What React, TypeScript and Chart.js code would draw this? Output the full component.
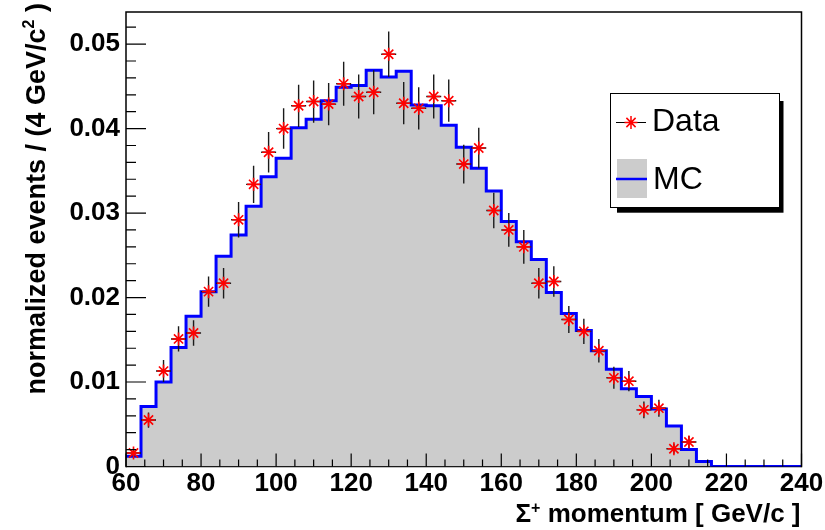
import React, { useEffect, useRef } from 'react';
import { Chart, registerables } from 'chart.js';

Chart.register(...registerables);

// ---------------- data ----------------
const binLowEdges = [
  60, 64, 68, 72, 76, 80, 84, 88, 92, 96, 100, 104, 108, 112, 116, 120, 124, 128, 132, 136,
  140, 144, 148, 152, 156, 160, 164, 168, 172, 176, 180, 184, 188, 192, 196, 200, 204, 208,
  212, 216, 220, 224, 228, 232, 236,
];
const binUpperEdge = 240;

const mcValues = [
  0.0012, 0.0071, 0.0100, 0.0141, 0.0178, 0.0207, 0.0249, 0.0274, 0.0308, 0.0343,
  0.0365, 0.0401, 0.0411, 0.0433, 0.0449, 0.0451, 0.0469, 0.0461, 0.0468, 0.0428,
  0.0427, 0.0404, 0.0378, 0.0353, 0.0326, 0.0290, 0.0266, 0.0245, 0.0206, 0.0181,
  0.0161, 0.0137, 0.0115, 0.0092, 0.0083, 0.0068, 0.0048, 0.0020, 0.0006, 0,
  0, 0, 0, 0, 0,
];

const dataCenters = [
  62, 66, 70, 74, 78, 82, 86, 90, 94, 98, 102, 106, 110, 114, 118, 122, 126, 130, 134,
  138, 142, 146, 150, 154, 158, 162, 166, 170, 174, 178, 182, 186, 190, 194, 198, 202,
  206, 210,
];
const dataValues = [
  0.0016, 0.0055, 0.0113, 0.0151, 0.0158, 0.0207, 0.0217, 0.0292, 0.0334, 0.0372,
  0.0400, 0.0427, 0.0432, 0.0429, 0.0453, 0.0438, 0.0443, 0.0488, 0.0430, 0.0424,
  0.0438, 0.0433, 0.0358, 0.0377, 0.0303, 0.0280, 0.0260, 0.0217, 0.0219, 0.0174,
  0.0160, 0.0137, 0.0105, 0.0101, 0.0067, 0.0069, 0.0021, 0.0029,
];
const dataErrors = [
  0.0005, 0.0009, 0.0013, 0.0015, 0.0015, 0.0018, 0.0018, 0.0021, 0.0022, 0.0024,
  0.0024, 0.0025, 0.0025, 0.0025, 0.0026, 0.0026, 0.0026, 0.0027, 0.0025, 0.0025,
  0.0026, 0.0025, 0.0023, 0.0024, 0.0021, 0.0020, 0.0020, 0.0018, 0.0018, 0.0016,
  0.0015, 0.0014, 0.0013, 0.0012, 0.0010, 0.0010, 0.0006, 0.0007,
];
const dataHalfBin = 2;

const xTicks = [60, 80, 100, 120, 140, 160, 180, 200, 220, 240];
const yTicks = [0, 0.01, 0.02, 0.03, 0.04, 0.05];
const xMin = 60;
const xMax = 240;
const yMin = 0;
const yMax = 0.0538;
const xMinorStep = 5;
const yMinorStep = 0.002;

const xTitle = ['Σ', '+', ' momentum [ GeV/c ]'];
const yTitle = ['normalized events / (4 GeV/c', '2', ' )'];
const legendLabels = ['Data', 'MC'];

const FONT = "'Liberation Sans', Arial, Helvetica, sans-serif";

type Seg = { t: string; size: number; rise: number };

function drawRichRightAligned(ctx: CanvasRenderingContext2D, segs: Seg[], weight: string) {
  const widths = segs.map((s) => {
    ctx.font = `${weight} ${s.size}px ${FONT}`;
    return ctx.measureText(s.t).width;
  });
  const total = widths.reduce((a, b) => a + b, 0);
  let x = -total;
  segs.forEach((s, i) => {
    ctx.font = `${weight} ${s.size}px ${FONT}`;
    ctx.fillText(s.t, x, -s.rise);
    x += widths[i];
  });
}

function drawStar(ctx: CanvasRenderingContext2D, cx: number, cy: number, r: number) {
  const d = r * Math.SQRT1_2;
  ctx.beginPath();
  ctx.moveTo(cx - r, cy);
  ctx.lineTo(cx + r, cy);
  ctx.moveTo(cx, cy - r);
  ctx.lineTo(cx, cy + r);
  ctx.moveTo(cx - d, cy - d);
  ctx.lineTo(cx + d, cy + d);
  ctx.moveTo(cx - d, cy + d);
  ctx.lineTo(cx + d, cy - d);
  ctx.stroke();
}

const rootStylePlugin = {
  id: 'rootStyle',
  beforeDatasetsDraw(chart: any) {
    const { ctx, chartArea: ca } = chart;
    ctx.save();
    ctx.strokeStyle = '#000';
    ctx.lineWidth = 1.5;
    ctx.beginPath();
    ctx.moveTo(ca.left, ca.bottom);
    ctx.lineTo(ca.right, ca.bottom);
    ctx.stroke();
    ctx.restore();
  },
  beforeDatasetDraw(chart: any, args: any) {
    if (args.index !== 0) return;
    const { ctx, chartArea: ca, scales } = chart;
    const xs = scales.x;
    const ys = scales.y;
    ctx.save();
    ctx.beginPath();
    ctx.rect(ca.left, ca.top, ca.right - ca.left, ca.bottom - ca.top);
    ctx.clip();
    ctx.strokeStyle = '#1a1a1a';
    ctx.lineWidth = 1.4;
    dataCenters.forEach((c, i) => {
      const px = xs.getPixelForValue(c);
      const v = dataValues[i];
      const e = dataErrors[i];
      const yTop = ys.getPixelForValue(v + e);
      const yBot = ys.getPixelForValue(Math.max(0, v - e));
      const py = ys.getPixelForValue(v);
      const xl = xs.getPixelForValue(c - dataHalfBin);
      const xr = xs.getPixelForValue(c + dataHalfBin);
      ctx.beginPath();
      ctx.moveTo(px, yTop);
      ctx.lineTo(px, yBot);
      ctx.moveTo(xl, py);
      ctx.lineTo(xr, py);
      ctx.stroke();
    });
    ctx.restore();
  },
  afterDraw(chart: any) {
    const { ctx, chartArea: ca, scales } = chart;
    const xs = scales.x;
    const ys = scales.y;
    ctx.save();

    // frame (left, top, right)
    ctx.strokeStyle = '#000';
    ctx.lineWidth = 1.5;
    ctx.beginPath();
    ctx.moveTo(ca.left, ca.bottom + 0.75);
    ctx.lineTo(ca.left, ca.top);
    ctx.lineTo(ca.right, ca.top);
    ctx.lineTo(ca.right, ca.bottom + 0.75);
    ctx.stroke();

    // ticks
    ctx.lineWidth = 1.2;
    ctx.beginPath();
    for (let k = 0; yMin + k * yMinorStep <= yMax + 1e-9; k++) {
      const v = yMin + k * yMinorStep;
      const py = ys.getPixelForValue(v);
      const len = k % 5 === 0 ? 20 : 10;
      ctx.moveTo(ca.left, py);
      ctx.lineTo(ca.left + len, py);
    }
    for (let k = 0; xMin + k * xMinorStep <= xMax + 1e-9; k++) {
      const v = xMin + k * xMinorStep;
      const px = xs.getPixelForValue(v);
      const len = k % 4 === 0 ? 13 : 7;
      ctx.moveTo(px, ca.bottom);
      ctx.lineTo(px, ca.bottom - len);
    }
    ctx.stroke();

    // axis titles
    ctx.fillStyle = '#000';
    ctx.textAlign = 'left';
    ctx.textBaseline = 'alphabetic';
    ctx.save();
    ctx.translate(ca.right - 1, 522);
    drawRichRightAligned(
      ctx,
      [
        { t: xTitle[0], size: 26, rise: 0 },
        { t: xTitle[1], size: 16, rise: 9 },
        { t: xTitle[2], size: 26, rise: 0 },
      ],
      'bold'
    );
    ctx.restore();

    ctx.save();
    ctx.translate(45, 3);
    ctx.rotate(-Math.PI / 2);
    drawRichRightAligned(
      ctx,
      [
        { t: yTitle[0], size: 27, rise: 0 },
        { t: yTitle[1], size: 16, rise: 11 },
        { t: yTitle[2], size: 27, rise: 0 },
      ],
      'bold'
    );
    ctx.restore();

    // legend (shadow, box, entries)
    const bx = 610, by = 93, bw = 169, bh = 114;
    ctx.fillStyle = '#000';
    ctx.fillRect(bx + 7, by + 8, bw - 2.5, bh - 2.3);
    ctx.fillStyle = '#fff';
    ctx.fillRect(bx, by, bw, bh);
    ctx.strokeStyle = '#000';
    ctx.lineWidth = 1;
    ctx.strokeRect(bx + 0.5, by + 0.5, bw, bh);

    // Data entry
    ctx.beginPath();
    ctx.moveTo(616, 122.5);
    ctx.lineTo(646, 122.5);
    ctx.stroke();
    ctx.strokeStyle = '#ff0000';
    ctx.lineWidth = 1.5;
    drawStar(ctx, 631, 122.5, 6.5);

    // MC entry
    ctx.fillStyle = '#cccccc';
    ctx.fillRect(617, 159, 30, 39);
    ctx.strokeStyle = '#0000ff';
    ctx.lineWidth = 2.5;
    ctx.beginPath();
    ctx.moveTo(616, 179);
    ctx.lineTo(647, 179);
    ctx.stroke();

    ctx.fillStyle = '#000';
    ctx.font = `32px ${FONT}`;
    ctx.textAlign = 'left';
    ctx.textBaseline = 'alphabetic';
    ctx.fillText(legendLabels[0], 652, 130.5);
    ctx.fillText(legendLabels[1], 653, 188.5);

    ctx.restore();
  },
};

export default function App() {
  const canvasRef = useRef<HTMLCanvasElement>(null);

  useEffect(() => {
    const canvas = canvasRef.current;
    if (!canvas) return;

    const mcPoints = binLowEdges
      .map((x, i) => ({ x, y: mcValues[i] }))
      .concat([{ x: binUpperEdge, y: mcValues[mcValues.length - 1] }]);
    const dataPoints = dataCenters.map((x, i) => ({ x, y: dataValues[i] }));

    const tickFont = { family: FONT, size: 26, weight: 'bold' as const, lineHeight: 1 };

    const chart = new Chart(canvas, {
      type: 'line',
      data: {
        datasets: [
          {
            label: legendLabels[0],
            data: dataPoints,
            showLine: false,
            pointStyle: 'star',
            pointRadius: 6.5,
            pointHoverRadius: 6.5,
            pointBorderColor: '#ff0000',
            pointBackgroundColor: '#ff0000',
            pointBorderWidth: 1.6,
            order: 0,
          },
          {
            label: legendLabels[1],
            data: mcPoints,
            stepped: 'before',
            borderColor: '#0000ff',
            borderWidth: 3,
            backgroundColor: '#cccccc',
            fill: 'origin',
            pointRadius: 0,
            pointHoverRadius: 0,
            order: 1,
          },
        ],
      },
      options: {
        animation: false,
        responsive: false,
        devicePixelRatio: 1,
        events: [],
        layout: { padding: { top: 12, right: 23.5, left: 0, bottom: 0 } },
        plugins: {
          legend: { display: false },
          tooltip: { enabled: false },
          title: { display: false },
        },
        scales: {
          x: {
            type: 'linear',
            min: xMin,
            max: xMax,
            grid: { display: false, drawTicks: false },
            border: { display: false },
            afterBuildTicks: (s: any) => {
              s.ticks = xTicks.map((v) => ({ value: v }));
            },
            afterFit: (s: any) => {
              s.height = 63.5;
              s.paddingLeft = 0;
              s.paddingRight = 0;
            },
            ticks: {
              autoSkip: false,
              maxRotation: 0,
              minRotation: 0,
              padding: 4,
              color: '#000',
              font: tickFont,
              callback: (v: any) => String(v),
            },
          },
          y: {
            type: 'linear',
            min: yMin,
            max: yMax,
            grid: { display: false, drawTicks: false },
            border: { display: false },
            afterBuildTicks: (s: any) => {
              s.ticks = yTicks.map((v) => ({ value: v }));
            },
            afterFit: (s: any) => {
              s.width = 126;
              s.paddingTop = 0;
              s.paddingBottom = 0;
            },
            ticks: {
              autoSkip: false,
              padding: 6,
              color: '#000',
              font: tickFont,
              callback: (v: any) => (Number(v) === 0 ? '0' : Number(v).toFixed(2)),
            },
          },
        },
      },
      plugins: [rootStylePlugin],
    } as any);

    return () => chart.destroy();
  }, []);

  return (
    <div style={{ position: 'fixed', left: 0, top: 0, width: 825, height: 530, background: '#fff' }}>
      <canvas
        ref={canvasRef}
        width={825}
        height={530}
        style={{ display: 'block', width: 825, height: 530 }}
      />
    </div>
  );
}
